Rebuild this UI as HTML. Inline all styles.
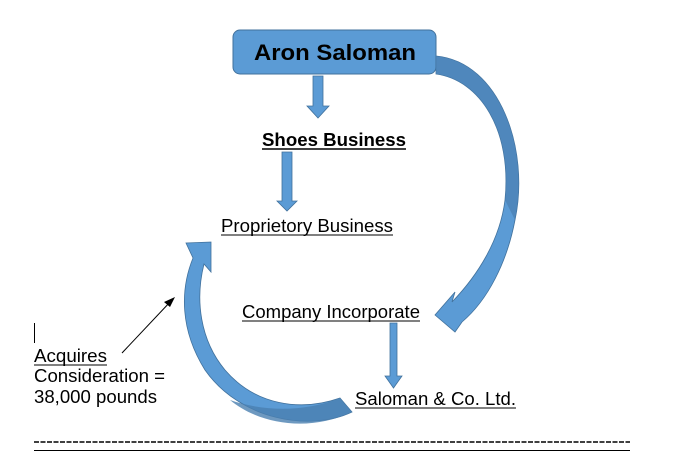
<!DOCTYPE html>
<html><head><style>
html,body{margin:0;padding:0;background:#fff;}
svg{display:block;}
text{font-family:"Liberation Sans",Arial,sans-serif;fill:#000;}
</style></head><body>
<svg width="677" height="471" viewBox="0 0 677 471" xmlns="http://www.w3.org/2000/svg">
<!-- top box -->
<rect x="233" y="30" width="203" height="44" rx="7" fill="#5b9bd5" stroke="#41719c" stroke-width="1"/>
<text x="254" y="60" font-size="22" font-weight="bold" textLength="162" lengthAdjust="spacingAndGlyphs">Aron Saloman</text>
<!-- arrow 1 -->
<path d="M313,76 H323 V106 H329 L318,118 L307,106 H313 Z" fill="#5b9bd5" stroke="#41719c" stroke-width="0.8"/>
<text x="262" y="146" font-size="18" font-weight="bold" textLength="144" lengthAdjust="spacingAndGlyphs">Shoes Business</text>
<line x1="262" y1="149" x2="406" y2="149" stroke="#000" stroke-width="1.5"/>
<!-- arrow 2 -->
<path d="M282,152 H292 V201 H297 L287,211 L277,201 H282 Z" fill="#5b9bd5" stroke="#41719c" stroke-width="0.8"/>
<text x="221" y="232" font-size="18" textLength="172" lengthAdjust="spacingAndGlyphs">Proprietory Business</text>
<line x1="221" y1="235" x2="393" y2="235" stroke="#000" stroke-width="1"/>
<!-- big right arc -->
<path d="M436,56 C 500,62 530,150 515,220 C 507,262 488,300 462,322 L455,332 L435,315 L455,292 L452,302 C 478,275 500,240 505,200 C 512,130 480,80 436,74 Z" fill="#5b9bd5" stroke="#41719c" stroke-width="0.8"/>
<path d="M436,56 C 500,62 530,150 515,220 L505,200 C 512,130 480,80 436,74 Z" fill="#4a7fb0" opacity="0.7"/>
<text x="242" y="318" font-size="18" textLength="178" lengthAdjust="spacingAndGlyphs">Company Incorporate</text>
<line x1="242" y1="321" x2="420" y2="321" stroke="#000" stroke-width="1"/>
<!-- arrow 3 -->
<path d="M390,323 H397 V376 H402 L393.5,388 L385,376 H390 Z" fill="#5b9bd5" stroke="#41719c" stroke-width="0.8"/>
<text x="355" y="405" font-size="18" textLength="161" lengthAdjust="spacingAndGlyphs">Saloman &amp; Co. Ltd.</text>
<line x1="355" y1="408" x2="516" y2="408" stroke="#000" stroke-width="1"/>
<!-- left arc -->
<path d="M340,398 L352,412 C 310,432 240,420 205,370 C 180,330 180,290 193,258 L186,243 L211,242 L211,272 L204,264 C 195,300 200,340 225,370 C 255,405 300,412 340,398 Z" fill="#5b9bd5" stroke="#41719c" stroke-width="0.8"/>
<path d="M340,398 L352,412 C 310,432 260,425 230,400 C 265,412 305,412 340,398 Z" fill="#4a7fb0" opacity="0.8"/>
<!-- cursor -->
<line x1="34.5" y1="323" x2="34.5" y2="343" stroke="#000" stroke-width="1"/>
<text x="34" y="362" font-size="18" textLength="73" lengthAdjust="spacingAndGlyphs">Acquires</text>
<line x1="34" y1="365" x2="107" y2="365" stroke="#000" stroke-width="1"/>
<text x="34" y="382" font-size="18" textLength="131" lengthAdjust="spacingAndGlyphs">Consideration =</text>
<text x="34" y="403" font-size="18" textLength="123" lengthAdjust="spacingAndGlyphs">38,000 pounds</text>
<!-- thin arrow -->
<line x1="122" y1="353" x2="171" y2="301" stroke="#000" stroke-width="1"/>
<path d="M175,297 L164,302 L170,307 Z" fill="#000"/>
<!-- dashed & solid lines -->
<line x1="34" y1="442" x2="630" y2="442" stroke="#000" stroke-width="1.5" stroke-dasharray="5,1.5"/>
<line x1="34" y1="450.5" x2="630" y2="450.5" stroke="#000" stroke-width="1"/>
</svg>
</body></html>
